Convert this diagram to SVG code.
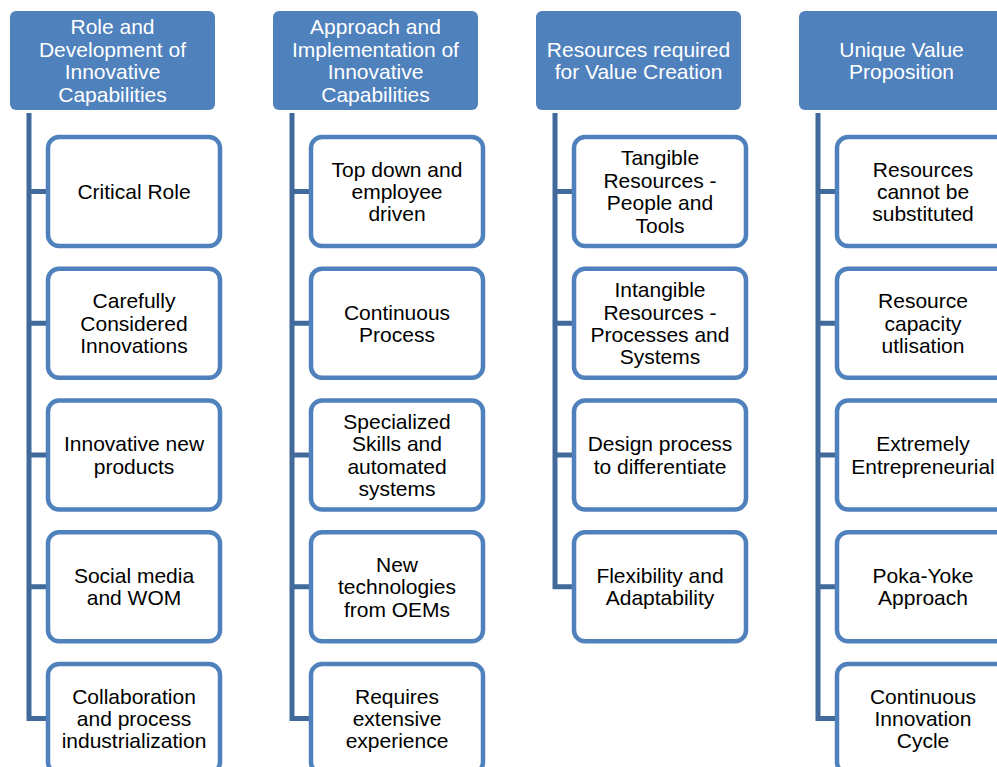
<svg xmlns="http://www.w3.org/2000/svg" width="997" height="767" viewBox="0 0 997 767">
<style>
.hdr{fill:#4F81BD;}
.box{fill:#FFFFFF;stroke:#4F81BD;stroke-width:4.5;}
.con{fill:none;stroke:#41699A;stroke-width:5;stroke-linejoin:miter;}
.ht{font-family:"Liberation Sans",Arial,sans-serif;font-size:21px;fill:#FFFFFF;text-anchor:middle;}
.bt{font-family:"Liberation Sans",Arial,sans-serif;font-size:21px;fill:#000000;text-anchor:middle;}
</style>
<rect width="997" height="767" fill="#FFFFFF"/>
<g id="connectors">
<path class="con" d="M29,113 V718.5 H48 M29,191.5 H48 M29,323.25 H48 M29,455 H48 M29,586.75 H48"/>
<path class="con" d="M292,113 V718.5 H311 M292,191.5 H311 M292,323.25 H311 M292,455 H311 M292,586.75 H311"/>
<path class="con" d="M555,113 V586.75 H574 M555,191.5 H574 M555,323.25 H574 M555,455 H574"/>
<path class="con" d="M818,113 V718.5 H837 M818,191.5 H837 M818,323.25 H837 M818,455 H837 M818,586.75 H837"/>
</g>
<g id="h1"><rect class="hdr" x="10" y="11" width="205" height="99" rx="6"/><text class="ht" y="34.4"><tspan x="112.5">Role and</tspan><tspan x="112.5" dy="22.4">Development of</tspan><tspan x="112.5" dy="22.4">Innovative</tspan><tspan x="112.5" dy="22.4">Capabilities</tspan></text></g>
<g id="h2"><rect class="hdr" x="273" y="11" width="205" height="99" rx="6"/><text class="ht" y="34.4"><tspan x="375.5">Approach and</tspan><tspan x="375.5" dy="22.4">Implementation of</tspan><tspan x="375.5" dy="22.4">Innovative</tspan><tspan x="375.5" dy="22.4">Capabilities</tspan></text></g>
<g id="h3"><rect class="hdr" x="536" y="11" width="205" height="99" rx="6"/><text class="ht" y="56.8"><tspan x="638.5">Resources required</tspan><tspan x="638.5" dy="22.4">for Value Creation</tspan></text></g>
<g id="h4"><rect class="hdr" x="799" y="11" width="205" height="99" rx="6"/><text class="ht" y="56.8"><tspan x="901.5">Unique Value</tspan><tspan x="901.5" dy="22.4">Proposition</tspan></text></g>

<g id="c1r1"><rect class="box" x="48" y="137" width="172" height="109" rx="11"/><text class="bt" y="199"><tspan x="134">Critical Role</tspan></text></g>
<g id="c1r2"><rect class="box" x="48" y="268.75" width="172" height="109" rx="11"/><text class="bt" y="308.35"><tspan x="134">Carefully</tspan><tspan x="134" dy="22.4">Considered</tspan><tspan x="134" dy="22.4">Innovations</tspan></text></g>
<g id="c1r3"><rect class="box" x="48" y="400.5" width="172" height="109" rx="11"/><text class="bt" y="451.3"><tspan x="134">Innovative new</tspan><tspan x="134" dy="22.4">products</tspan></text></g>
<g id="c1r4"><rect class="box" x="48" y="532.25" width="172" height="109" rx="11"/><text class="bt" y="583.05"><tspan x="134">Social media</tspan><tspan x="134" dy="22.4">and WOM</tspan></text></g>
<g id="c1r5"><rect class="box" x="48" y="664" width="172" height="109" rx="11"/><text class="bt" y="703.6"><tspan x="134">Collaboration</tspan><tspan x="134" dy="22.4">and process</tspan><tspan x="134" dy="22.4">industrialization</tspan></text></g>

<g id="c2r1"><rect class="box" x="311" y="137" width="172" height="109" rx="11"/><text class="bt" y="176.6"><tspan x="397">Top down and</tspan><tspan x="397" dy="22.4">employee</tspan><tspan x="397" dy="22.4">driven</tspan></text></g>
<g id="c2r2"><rect class="box" x="311" y="268.75" width="172" height="109" rx="11"/><text class="bt" y="319.55"><tspan x="397">Continuous</tspan><tspan x="397" dy="22.4">Process</tspan></text></g>
<g id="c2r3"><rect class="box" x="311" y="400.5" width="172" height="109" rx="11"/><text class="bt" y="428.9"><tspan x="397">Specialized</tspan><tspan x="397" dy="22.4">Skills and</tspan><tspan x="397" dy="22.4">automated</tspan><tspan x="397" dy="22.4">systems</tspan></text></g>
<g id="c2r4"><rect class="box" x="311" y="532.25" width="172" height="109" rx="11"/><text class="bt" y="571.85"><tspan x="397">New</tspan><tspan x="397" dy="22.4">technologies</tspan><tspan x="397" dy="22.4">from OEMs</tspan></text></g>
<g id="c2r5"><rect class="box" x="311" y="664" width="172" height="109" rx="11"/><text class="bt" y="703.6"><tspan x="397">Requires</tspan><tspan x="397" dy="22.4">extensive</tspan><tspan x="397" dy="22.4">experience</tspan></text></g>

<g id="c3r1"><rect class="box" x="574" y="137" width="172" height="109" rx="11"/><text class="bt" y="165.4"><tspan x="660">Tangible</tspan><tspan x="660" dy="22.4">Resources -</tspan><tspan x="660" dy="22.4">People and</tspan><tspan x="660" dy="22.4">Tools</tspan></text></g>
<g id="c3r2"><rect class="box" x="574" y="268.75" width="172" height="109" rx="11"/><text class="bt" y="297.15"><tspan x="660">Intangible</tspan><tspan x="660" dy="22.4">Resources -</tspan><tspan x="660" dy="22.4">Processes and</tspan><tspan x="660" dy="22.4">Systems</tspan></text></g>
<g id="c3r3"><rect class="box" x="574" y="400.5" width="172" height="109" rx="11"/><text class="bt" y="451.3"><tspan x="660">Design process</tspan><tspan x="660" dy="22.4">to differentiate</tspan></text></g>
<g id="c3r4"><rect class="box" x="574" y="532.25" width="172" height="109" rx="11"/><text class="bt" y="583.05"><tspan x="660">Flexibility and</tspan><tspan x="660" dy="22.4">Adaptability</tspan></text></g>

<g id="c4r1"><rect class="box" x="837" y="137" width="172" height="109" rx="11"/><text class="bt" y="176.6"><tspan x="923">Resources</tspan><tspan x="923" dy="22.4">cannot be</tspan><tspan x="923" dy="22.4">substituted</tspan></text></g>
<g id="c4r2"><rect class="box" x="837" y="268.75" width="172" height="109" rx="11"/><text class="bt" y="308.35"><tspan x="923">Resource</tspan><tspan x="923" dy="22.4">capacity</tspan><tspan x="923" dy="22.4">utlisation</tspan></text></g>
<g id="c4r3"><rect class="box" x="837" y="400.5" width="172" height="109" rx="11"/><text class="bt" y="451.3"><tspan x="923">Extremely</tspan><tspan x="923" dy="22.4">Entrepreneurial</tspan></text></g>
<g id="c4r4"><rect class="box" x="837" y="532.25" width="172" height="109" rx="11"/><text class="bt" y="583.05"><tspan x="923">Poka-Yoke</tspan><tspan x="923" dy="22.4">Approach</tspan></text></g>
<g id="c4r5"><rect class="box" x="837" y="664" width="172" height="109" rx="11"/><text class="bt" y="703.6"><tspan x="923">Continuous</tspan><tspan x="923" dy="22.4">Innovation</tspan><tspan x="923" dy="22.4">Cycle</tspan></text></g>
</svg>
